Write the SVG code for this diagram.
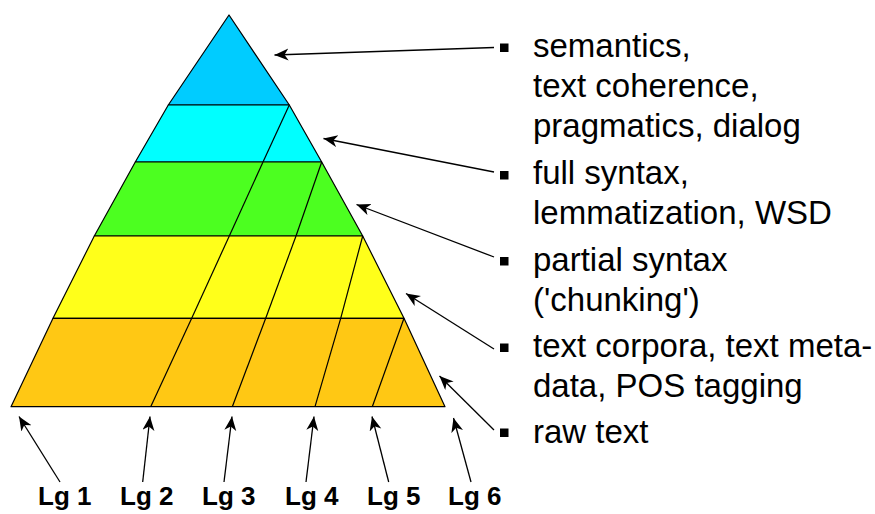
<svg xmlns="http://www.w3.org/2000/svg" width="875" height="514" viewBox="0 0 875 514">
<defs>
<marker id="ah" markerUnits="userSpaceOnUse" markerWidth="15" markerHeight="13" refX="14" refY="6" orient="auto">
<path d="M0,0 L14,6 L0,12 L4,6 Z" fill="#000"/>
</marker>
</defs>
<style>
.band{stroke:#000;stroke-width:1.2;stroke-linejoin:round}
.div{stroke:#000;stroke-width:1.2;fill:none}
.con{stroke:#000;stroke-width:1.3;fill:none;marker-end:url(#ah)}
.lbl{font-family:"Liberation Sans",Arial,sans-serif;font-size:33px;fill:#000}
.lg{font-family:"Liberation Sans",Arial,sans-serif;font-size:26px;font-weight:bold;fill:#000}
.bul{fill:#000}
</style>
<rect width="875" height="514" fill="#fff"/>
<g id="band-semantics">
<polygon class="band" fill="#00CCFF" points="229,15 289.3,105 168.3,105"/>
</g>
<g id="band-fullsyntax">
<polygon class="band" fill="#00FFFF" points="168.3,105 289.3,105 321.7,162 135.3,162"/>
<line class="div" x1="289.3" y1="105" x2="263" y2="162"/>
</g>
<g id="band-partialsyntax">
<polygon class="band" fill="#4CFF20" points="135.3,162 321.7,162 362.7,236 94.3,236"/>
<line class="div" x1="263" y1="162" x2="229.3" y2="236"/>
<line class="div" x1="321.7" y1="162" x2="296" y2="236"/>
</g>
<g id="band-corpora">
<polygon class="band" fill="#FFFF1A" points="94.3,236 362.7,236 404,318.3 53,318.3"/>
<line class="div" x1="229.3" y1="236" x2="191.7" y2="318.3"/>
<line class="div" x1="296" y1="236" x2="265.7" y2="318.3"/>
<line class="div" x1="362.7" y1="236" x2="340.7" y2="318.3"/>
</g>
<g id="band-rawtext">
<polygon class="band" fill="#FFC814" points="53,318.3 404,318.3 445,406.7 11,406.7"/>
<line class="div" x1="191.7" y1="318.3" x2="150.7" y2="406.7"/>
<line class="div" x1="265.7" y1="318.3" x2="232.3" y2="406.7"/>
<line class="div" x1="340.7" y1="318.3" x2="315" y2="406.7"/>
<line class="div" x1="404" y1="318.3" x2="372.3" y2="406.7"/>
</g>
<g id="label-semantics">
<rect class="bul" x="500" y="43.5" width="8.5" height="8.5"/>
<text class="lbl" x="533" y="57">semantics,</text>
<text class="lbl" x="533" y="97">text coherence,</text>
<text class="lbl" x="533" y="137">pragmatics, dialog</text>
</g>
<g id="label-fullsyntax">
<rect class="bul" x="500" y="171" width="8.5" height="8.5"/>
<text class="lbl" x="533" y="184">full syntax,</text>
<text class="lbl" x="533" y="224">lemmatization, WSD</text>
</g>
<g id="label-partialsyntax">
<rect class="bul" x="500" y="257" width="8.5" height="8.5"/>
<text class="lbl" x="533" y="271">partial syntax</text>
<text class="lbl" x="533" y="311">('chunking')</text>
</g>
<g id="label-corpora">
<rect class="bul" x="500" y="343.5" width="8.5" height="8.5"/>
<text class="lbl" x="533" y="357">text corpora, text meta-</text>
<text class="lbl" x="533" y="397">data, POS tagging</text>
</g>
<g id="label-rawtext">
<rect class="bul" x="500" y="428.5" width="8.5" height="8.5"/>
<text class="lbl" x="533" y="443">raw text</text>
</g>
<g id="lg1"><text class="lg" x="38" y="505">Lg 1</text></g>
<g id="lg2"><text class="lg" x="120" y="505">Lg 2</text></g>
<g id="lg3"><text class="lg" x="202" y="505">Lg 3</text></g>
<g id="lg4"><text class="lg" x="285" y="505">Lg 4</text></g>
<g id="lg5"><text class="lg" x="367" y="505">Lg 5</text></g>
<g id="lg6"><text class="lg" x="448" y="505">Lg 6</text></g>
<g id="connectors">
<line class="con" x1="494" y1="47.5" x2="274.5" y2="55"/>
<line class="con" x1="494" y1="172" x2="323.5" y2="138.5"/>
<line class="con" x1="494" y1="257" x2="356.5" y2="204.5"/>
<line class="con" x1="494" y1="349" x2="406" y2="293.5"/>
<line class="con" x1="494" y1="430" x2="439.5" y2="376"/>
<line class="con" x1="60" y1="482" x2="19" y2="416.5"/>
<line class="con" x1="142.7" y1="482" x2="150" y2="416.5"/>
<line class="con" x1="224" y1="482" x2="232" y2="416.5"/>
<line class="con" x1="306" y1="482" x2="314" y2="416.5"/>
<line class="con" x1="388.7" y1="482" x2="372" y2="416.5"/>
<line class="con" x1="471" y1="482" x2="453.5" y2="418"/>
</g>
</svg>
